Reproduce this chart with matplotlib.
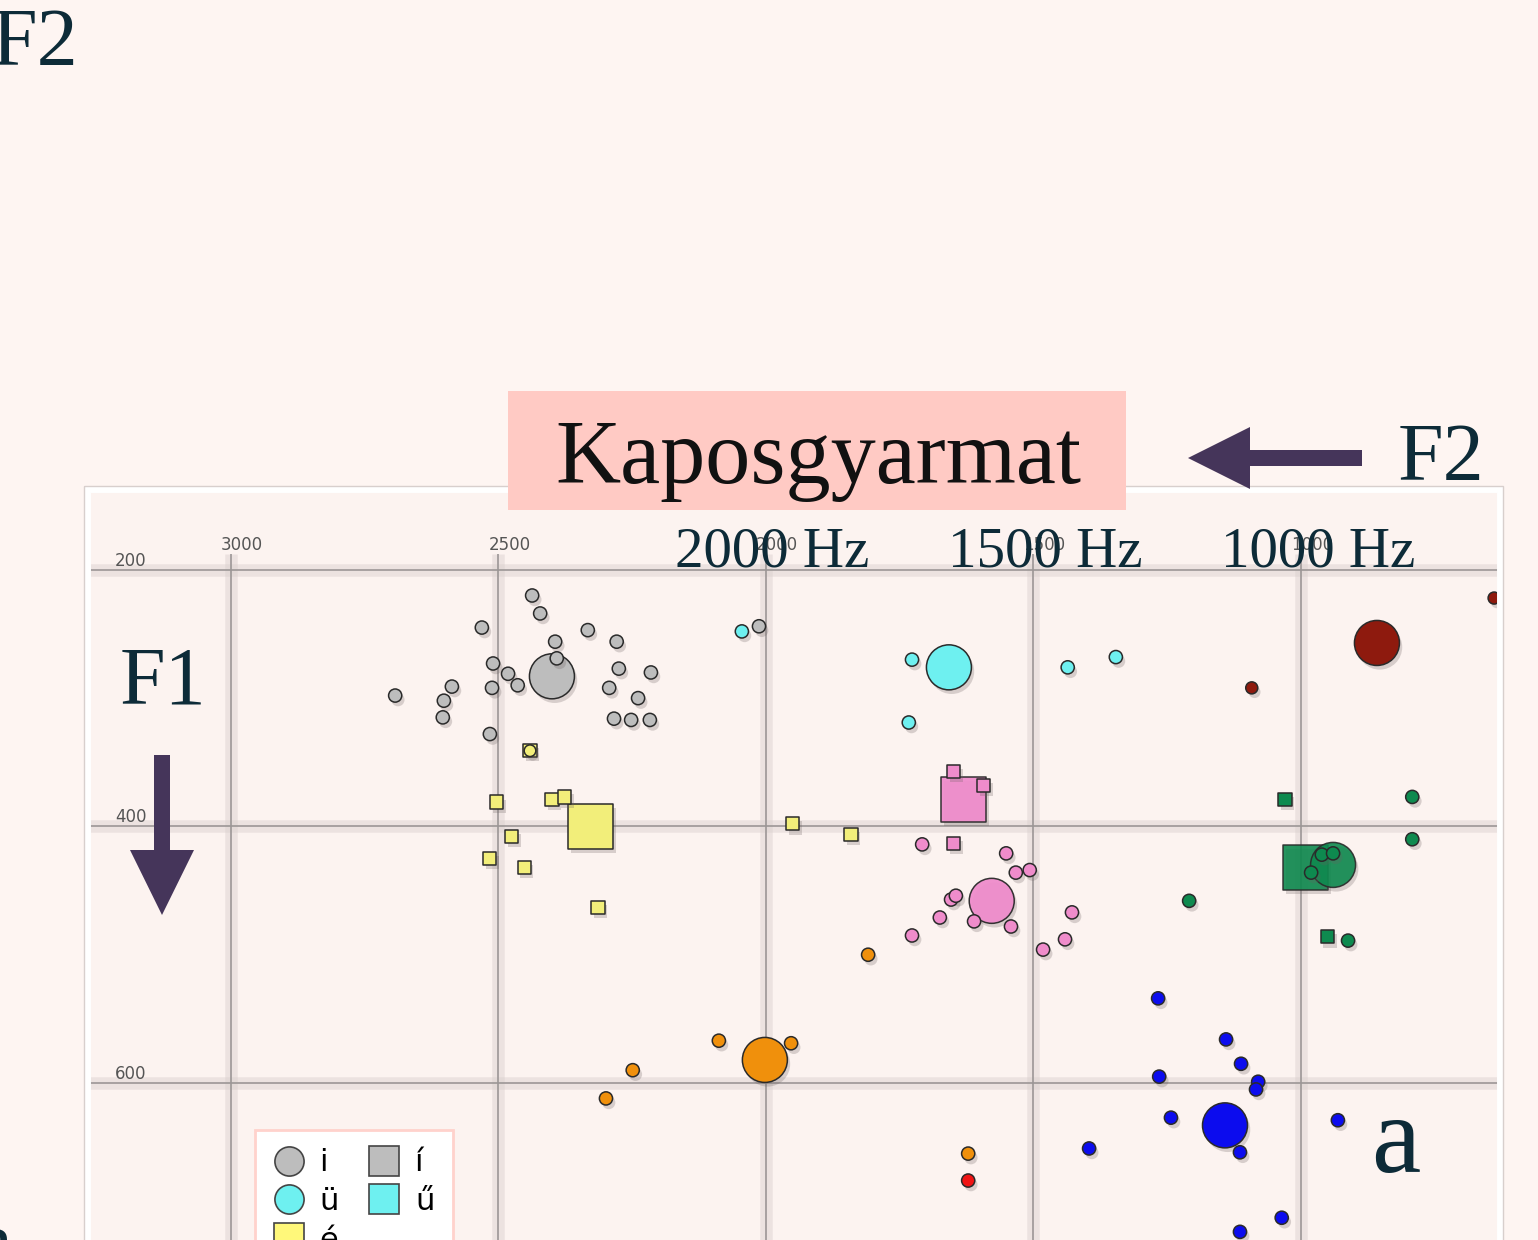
import matplotlib
matplotlib.use("Agg")
import matplotlib.pyplot as plt
import matplotlib.patheffects as pe
from matplotlib.lines import Line2D
from matplotlib.patches import Rectangle, FancyArrow

W, H, DPI = 1538, 1240, 100

# =============================================================================
# Data (F2, F1 in Hz)
# =============================================================================
i_f2 = [2437, 2422, 2531, 2333, 2279, 2394, 2391, 2510, 2482, 2464, 2275, 2215,
        2587, 2512, 2293, 2693, 2602, 2239, 2604, 2284, 2252, 2217, 2516, 2013]
i_f1 = [220, 234, 245, 247, 256, 256, 269, 273, 281, 290, 277, 280,
        291, 292, 292, 298, 302, 300, 315, 316, 317, 317, 328, 244]
i_mean = (2400, 283)

e_long_f2 = [2503, 2400, 2376, 2475, 2516, 2452, 2314, 1950, 1841, 2441]
e_long_f1 = [381, 379, 377, 408, 425, 432, 463, 398, 406, 341]
e_long_mean = (2327, 400)
e_long_circ = (2441, 341)

ue_f2 = [2045, 1727, 1733, 1436, 1346]
ue_f1 = [248, 270, 319, 276, 268]
ue_mean = (1658, 276)

oe_long_f2 = [1649, 1593, 1649]
oe_long_f1 = [357, 368, 413]
oe_long_mean = (1630, 379)

oe_f2 = [1708, 1551, 1533, 1507, 1654, 1645, 1675, 1611, 1542, 1727, 1428, 1441, 1482]
oe_f1 = [414, 421, 436, 434, 457, 454, 471, 474, 478, 485, 467, 488, 496]
oe_mean = (1578, 458)

u_long_f2 = [1030, 951]
u_long_f1 = [379, 486]
u_long_mean = (991, 432)

u_f2 = [792, 792, 1209, 912, 961, 940, 981]
u_f1 = [377, 410, 458, 489, 422, 421, 436]
u_mean = (940, 430)

o_f2 = [1092, 639]
o_f1 = [292, 222]
o_mean = (858, 257)

e_f2 = [1809, 2088, 1953, 2249, 2299, 1622]
e_f1 = [500, 567, 569, 590, 612, 655]
e_mean = (2002, 582)

red_f2 = [1622]
red_f1 = [676]

a_f2 = [1267, 1140, 1112, 1265, 1080, 1084, 1243, 931, 1396, 1114, 1036, 1114]
a_f1 = [534, 566, 585, 595, 599, 605, 627, 629, 651, 654, 705, 716]
a_mean = (1142, 633)

f2_ticks = [3000, 2500, 2000, 1500, 1000]
f1_ticks = [200, 400, 600]
hz_labels = ["2000 Hz", "1500 Hz", "1000 Hz"]
hz_label_pos = [1989, 1478, 968]

# colours
C_GRAY = "#bdbdbd"
C_CYAN = "#6ef0f0"
C_YEL = "#f2ee7a"
C_PINK = "#ef8ccb"
C_GREEN = "#0e8a4f"
C_DRED = "#8e1a0e"
C_ORANGE = "#f0900c"
C_RED = "#f01414"
C_BLUE = "#0c0cee"
C_INK = "#0d2b38"
C_ARROW = "#45355a"

SERIF = "Liberation Serif"

# =============================================================================
# Figure / axes
# =============================================================================
fig = plt.figure(figsize=(W / DPI, H / DPI), dpi=DPI, facecolor="#fef5f2")

# axes frame: px 87..1500 horizontally, 489..1500 vertically (runs off the bottom)
ax = fig.add_axes([87 / W, 1 - 1500 / H, 1413 / W, 1011 / H])
ax.set_facecolor("#fcf3f0")
ax.set_xlim(3269, 628)
ax.set_ylim(925, 137)
ax.set_xticks([])
ax.set_yticks([])
for sp in ax.spines.values():
    sp.set_color("white")
    sp.set_linewidth(5)
    sp.set_zorder(10)

# grid with a soft halo
for f1 in f1_ticks:
    ax.axhline(f1, color="#d9cfcd", lw=9, alpha=0.45, zorder=0)
    ax.axhline(f1, color="#9c9696", lw=1.2, zorder=1)
ax.vlines(f2_ticks, 188, 925, color="#d9cfcd", lw=9, alpha=0.45, zorder=0)
ax.vlines(f2_ticks, 188, 925, color="#9c9696", lw=1.2, zorder=1)

for f2 in f2_ticks:
    ax.text(f2 + 19, 181, str(f2), ha="left", va="center", fontsize=12,
            color="#555555", zorder=2)
for f1 in f1_ticks:
    ax.text(3217, f1 - 7, str(f1), ha="left", va="center", fontsize=12,
            color="#555555", zorder=2)
for lab, pos in zip(hz_labels, hz_label_pos):
    ax.text(pos, 197.5, lab, ha="center", va="baseline",
            fontsize=41, family=SERIF, color=C_INK, zorder=3)

ax.text(822, 669, "a", ha="center", va="baseline", fontsize=80,
        family=SERIF, color=C_INK, zorder=3)

# markers
shadow = [pe.SimplePatchShadow(offset=(2, -3), shadow_rgbFace="#6a5f5f", alpha=0.25),
          pe.Normal()]
SMALL, BIG = 90, 1050
EC, LW = "#2a2a2a", 1.1


def dots(x, y, color, marker="o", size=SMALL, z=4, alpha=1.0):
    sc = ax.scatter(x, y, s=size, c=color, marker=marker, edgecolors=EC,
                    linewidths=LW, zorder=z, alpha=alpha)
    sc.set_path_effects(shadow)
    return sc


dots([i_mean[0]], [i_mean[1]], C_GRAY, size=BIG, z=4)
dots(i_f2, i_f1, C_GRAY, z=5)

dots([e_long_mean[0]], [e_long_mean[1]], C_YEL, marker="s", size=BIG)
dots(e_long_f2, e_long_f1, C_YEL, marker="s", z=5)
dots([e_long_circ[0]], [e_long_circ[1]], C_YEL, size=70, z=6)

dots([ue_mean[0]], [ue_mean[1]], C_CYAN, size=BIG)
dots(ue_f2, ue_f1, C_CYAN, z=5)

dots([oe_long_mean[0]], [oe_long_mean[1]], C_PINK, marker="s", size=BIG, alpha=0.95)
dots(oe_long_f2, oe_long_f1, C_PINK, marker="s", z=5)
dots([oe_mean[0]], [oe_mean[1]], C_PINK, size=BIG, alpha=0.95)
dots(oe_f2, oe_f1, C_PINK, z=5)

dots([u_long_mean[0]], [u_long_mean[1]], C_GREEN, marker="s", size=BIG, alpha=0.9)
dots([u_mean[0]], [u_mean[1]], C_GREEN, size=BIG, alpha=0.9)
dots(u_long_f2, u_long_f1, C_GREEN, marker="s", z=5)
dots(u_f2, u_f1, C_GREEN, z=5)

dots([o_mean[0]], [o_mean[1]], C_DRED, size=BIG)
dots(o_f2, o_f1, C_DRED, size=75, z=5)

dots([e_mean[0]], [e_mean[1]], C_ORANGE, size=BIG)
dots(e_f2, e_f1, C_ORANGE, z=5)
dots(red_f2, red_f1, C_RED, z=5)

dots([a_mean[0]], [a_mean[1]], C_BLUE, size=BIG)
dots(a_f2, a_f1, C_BLUE, z=5)

# legend (runs off the bottom of the picture)
def handle(marker, color, label):
    return Line2D([], [], ls="", marker=marker, ms=21, mfc=color, mec="#444444",
                  mew=1.2, label=label)


handles = [handle("o", C_GRAY, "i"), handle("o", C_CYAN, "ü"), handle("s", "#fff87a", "é"),
           handle("s", C_GRAY, "í"), handle("s", C_CYAN, "ű")]
leg = ax.legend(handles=handles, ncol=2, loc="upper left",
                bbox_to_anchor=(255 / W, 1 - 1130 / H), bbox_transform=fig.transFigure,
                borderaxespad=0, frameon=True, fancybox=False, facecolor="white",
                edgecolor="#ffd2cc", framealpha=1, fontsize=22, borderpad=0.6,
                handletextpad=0.5, columnspacing=1.0, labelspacing=0.32,
                handlelength=1.0)
leg.get_frame().set_linewidth(2)
leg.set_zorder(8)

# =============================================================================
# Overlay in pixel units: title box, arrows, F1/F2 labels
# =============================================================================
ov = fig.add_axes([0, 0, 1, 1])
ov.set_xlim(0, W)
ov.set_ylim(H, 0)
ov.axis("off")
ov.patch.set_visible(False)
ov.set_zorder(5)

ov.add_patch(Rectangle((84, 486), 1419, 900, fill=False, ec="#d8cfcd", lw=1))
ov.add_patch(Rectangle((508, 391), 618, 119, fc="#ffcac4", ec="none"))
ov.text(818, 483, "Kaposgyarmat", ha="center", va="baseline", fontsize=65,
        family=SERIF, color="#111111")

ov.add_patch(FancyArrow(1362, 458, -174, 0, width=16, head_width=62, head_length=62,
                        length_includes_head=True, color=C_ARROW, lw=0))
ov.add_patch(FancyArrow(162, 755, 0, 160, width=16, head_width=64, head_length=65,
                        length_includes_head=True, color=C_ARROW, lw=0))

ov.text(1398, 480, "F2", ha="left", va="baseline", fontsize=59, family=SERIF, color=C_INK)
ov.text(78, 65, "F2", ha="right", va="baseline", fontsize=59, family=SERIF, color=C_INK)
ov.text(120, 703, "F1", ha="left", va="baseline", fontsize=59, family=SERIF, color=C_INK)
ov.text(-6, 1268, "a", ha="center", va="baseline", fontsize=60, family=SERIF, color=C_INK)

fig.savefig("out.png", dpi=DPI, facecolor=fig.get_facecolor())
